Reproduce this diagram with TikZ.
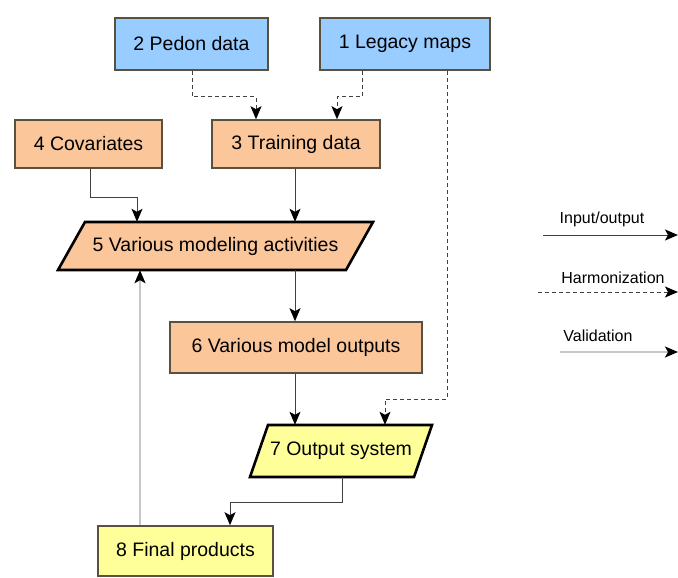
\documentclass[tikz,border=0pt]{standalone}
\usepackage{fontspec}
\setmainfont{Liberation Sans}
\usetikzlibrary{arrows.meta,calc}
\definecolor{blueF}{HTML}{99CCFF}
\definecolor{orangeF}{HTML}{FAC69A}
\definecolor{yellowF}{HTML}{FFFF99}
\definecolor{boxB}{HTML}{5A5040}
\tikzset{
  box/.style={draw=boxB,line width=1.6pt,inner sep=0pt,font=\fontsize{19.5}{22}\selectfont},
  para/.style={draw=black,line width=2.6pt,line join=miter},
  tip/.style={-{Stealth[length=13pt,width=11pt,inset=3pt,black]}},
  io/.style={tip,draw=black!75,line width=1pt},
  harm/.style={tip,draw=black!75,line width=1pt,dash pattern=on 4pt off 3pt},
  valid/.style={tip,draw=black!22,line width=1.8pt},
  lbl/.style={font=\fontsize{19.5}{22}\selectfont,inner sep=0pt},
  leg/.style={font=\fontsize{16}{18}\selectfont,inner sep=0pt}
}
\begin{document}
\begin{tikzpicture}[x=1pt,y=-1pt]
\useasboundingbox (0,0) rectangle (678,578);
% boxes
\node[box,fill=blueF,minimum width=153pt,minimum height=52pt] (n2) at (191.5,44) {2 Pedon data};
\node[box,fill=blueF,minimum width=170pt,minimum height=52pt] (n1) at (405,44) {1 Legacy maps};
\node[box,fill=orangeF,minimum width=147pt,minimum height=48pt] (n4) at (88.5,144) {4 Covariates};
\node[box,fill=orangeF,minimum width=168pt,minimum height=48pt] (n3) at (296,144) {3 Training data};
% parallelogram 5
\fill[orangeF] (85,222) -- (373,222) -- (346,270) -- (58,270) -- cycle;
\draw[para] (85,222) -- (373,222) -- (346,270) -- (58,270) -- cycle;
\node[lbl,minimum width=260pt,minimum height=48pt] (n5) at (215.5,246) {5 Various modeling activities};
\node[box,fill=orangeF,minimum width=252pt,minimum height=51pt] (n6) at (296,347.5) {6 Various model outputs};
% parallelogram 7
\fill[yellowF] (268,425) -- (432,425) -- (414,477) -- (250,477) -- cycle;
\draw[para] (268,425) -- (432,425) -- (414,477) -- (250,477) -- cycle;
\node[lbl,minimum width=160pt,minimum height=52pt] (n7) at (341,451) {7 Output system};
\node[box,fill=yellowF,minimum width=175pt,minimum height=50pt] (n8) at (185.5,551) {8 Final products};
% connectors
\draw[harm] (n2.south -| 192,0) -- (192,97) -- (256,97) -- (n3.north -| 256,0);
\draw[harm] (n1.south -| 362,0) -- (362,97) -- (337,97) -- (n3.north -| 337,0);
\draw[harm] (n1.south -| 447,0) -- (447,399) -- (385,399) -- (n7.north -| 385,0);
\draw[io] (n4.south -| 90,0) -- (90,197) -- (137,197) -- (n5.north -| 137,0);
\draw[io] (n3.south -| 295,0) -- (n5.north -| 295,0);
\draw[io] (n5.south -| 295,0) -- (n6.north -| 295,0);
\draw[io] (n6.south -| 295,0) -- (n7.north -| 295,0);
\draw[io] (n7.south -| 342,0) -- (342,502) -- (230,502) -- (n8.north -| 230,0);
\draw[valid] (n8.north -| 140,0) -- (n5.south -| 140,0);
% legend
\node[leg] (l1) at (602,219) {Input/output};
\coordinate (l1a) at (543,235); \coordinate (l1b) at (678,235);
\draw[io] (l1a) -- (l1b);
\node[leg] (l2) at (613,278) {Harmonization};
\coordinate (l2a) at (538,292); \coordinate (l2b) at (678,292);
\draw[harm] (l2a) -- (l2b);
\node[leg] (l3) at (598,336) {Validation};
\coordinate (l3a) at (560,352); \coordinate (l3b) at (678,352);
\draw[valid] (l3a) -- (l3b);
\end{tikzpicture}
\end{document}
